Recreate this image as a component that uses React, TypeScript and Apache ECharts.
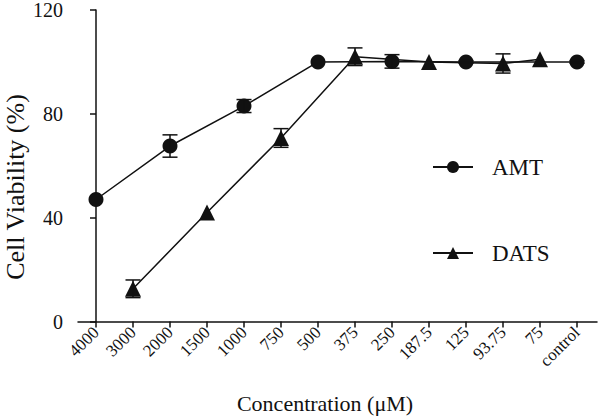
import React, { useEffect, useRef } from "react";
import * as echarts from "echarts";

const categories = ["4000", "3000", "2000", "1500", "1000", "750", "500", "375", "250", "187.5", "125", "93.75", "75", "control"];
const amtValues: (number | null)[] = [47, null, 67.6, null, 83, null, 100, null, 100.2, null, 100, null, null, 100];
const amtErrors: (number | null)[] = [0, null, 4.3, null, 2.5, null, 0, null, 2.6, null, 0.5, null, null, 0.5];
const datsValues: (number | null)[] = [null, 12.6, null, 42, null, 70.7, null, 102, null, 100, null, 99.4, 101, null];
const datsErrors: (number | null)[] = [null, 3.4, null, 0, null, 3.6, null, 3.4, null, 0, null, 3.7, 0, null];
const yTicks = [0, 40, 80, 120];

const FONT = "'Liberation Serif', 'Times New Roman', serif";
const INK = "#111111";

function toPoints(vals: (number | null)[]) {
  return vals.map((v, i) => [i, v]).filter((d) => d[1] != null) as number[][];
}
function toErr(vals: (number | null)[], errs: (number | null)[]) {
  return vals
    .map((v, i) => [i, v, errs[i]])
    .filter((d) => d[1] != null && d[2] != null && (d[2] as number) > 0) as number[][];
}

const errorRender = (params: any, api: any) => {
  const x = api.value(0);
  const y = api.value(1);
  const e = api.value(2);
  const hi = api.coord([x, y + e]);
  const lo = api.coord([x, y - e]);
  const hw = 7.5;
  const style = { stroke: INK, lineWidth: 1.5 };
  return {
    type: "group",
    children: [
      { type: "line", shape: { x1: hi[0], y1: hi[1], x2: lo[0], y2: lo[1] }, style },
      { type: "line", shape: { x1: hi[0] - hw, y1: hi[1], x2: hi[0] + hw, y2: hi[1] }, style },
      { type: "line", shape: { x1: lo[0] - hw, y1: lo[1], x2: lo[0] + hw, y2: lo[1] }, style },
    ],
  };
};

export default function App() {
  const ref = useRef<HTMLDivElement>(null);
  useEffect(() => {
    if (!ref.current) return;
    const chart = echarts.init(ref.current, null, { renderer: "svg" });
    const idx = categories.map((_, i) => i);
    chart.setOption({
      animation: false,
      backgroundColor: "#ffffff",
      grid: { left: 78, right: 5, top: 6.5, bottom: 96.5, containLabel: false },
      xAxis: {
        type: "value",
        min: -18 / 37,
        max: 13 + 20 / 37,
        splitLine: { show: false },
        axisLine: { show: true, lineStyle: { color: INK, width: 1.5 } },
        axisTick: { show: true, customValues: idx, length: 6, lineStyle: { color: INK, width: 1.5 } },
        axisLabel: {
          customValues: idx,
          formatter: (v: number) => categories[Math.round(v)],
          rotate: 45,
          fontFamily: FONT,
          fontSize: 17,
          color: INK,
          margin: 8,
        },
      },
      yAxis: {
        type: "value",
        min: 0,
        max: 120,
        interval: 40,
        splitLine: { show: false },
        axisLine: { show: true, lineStyle: { color: INK, width: 1.5 } },
        axisTick: { show: true, length: 6, lineStyle: { color: INK, width: 1.5 } },
        axisLabel: {
          fontFamily: FONT,
          fontSize: 20,
          color: INK,
          margin: 15,
          formatter: (v: number) => (yTicks.includes(v) ? String(v) : ""),
        },
      },
      legend: {
        orient: "vertical",
        left: 427,
        top: 149,
        itemWidth: 40,
        itemHeight: 15,
        itemGap: 60,
        data: ["AMT", "DATS"],
        textStyle: { fontFamily: FONT, fontSize: 23, color: INK, padding: [0, 0, 0, 14], lineHeight: 26 },
      },
      graphic: [
        {
          type: "text",
          x: 15,
          y: 187,
          rotation: Math.PI / 2,
          style: {
            text: "Cell Viability (%)",
            font: `26px ${FONT}`,
            fill: INK,
            textAlign: "center",
            textVerticalAlign: "middle",
          },
        },
        {
          type: "text",
          x: 325,
          y: 403,
          style: {
            text: "Concentration (μM)",
            font: `22px ${FONT}`,
            fill: INK,
            textAlign: "center",
            textVerticalAlign: "middle",
          },
        },
      ],
      series: [
        {
          name: "AMT",
          type: "line",
          data: toPoints(amtValues),
          symbol: "circle",
          symbolSize: 15,
          itemStyle: { color: INK },
          lineStyle: { color: INK, width: 1.5 },
          z: 3,
        },
        {
          name: "DATS",
          type: "line",
          data: toPoints(datsValues),
          symbol: "triangle",
          symbolSize: 16,
          itemStyle: { color: INK },
          lineStyle: { color: INK, width: 1.5 },
          z: 3,
        },
        {
          type: "custom",
          renderItem: errorRender,
          data: toErr(amtValues, amtErrors),
          encode: { x: 0, y: 1 },
          z: 4,
        },
        {
          type: "custom",
          renderItem: errorRender,
          data: toErr(datsValues, datsErrors),
          encode: { x: 0, y: 1 },
          z: 4,
        },
      ],
    });
    return () => chart.dispose();
  }, []);
  return <div ref={ref} style={{ width: 602, height: 418, position: "absolute", left: 0, top: 0 }} />;
}
